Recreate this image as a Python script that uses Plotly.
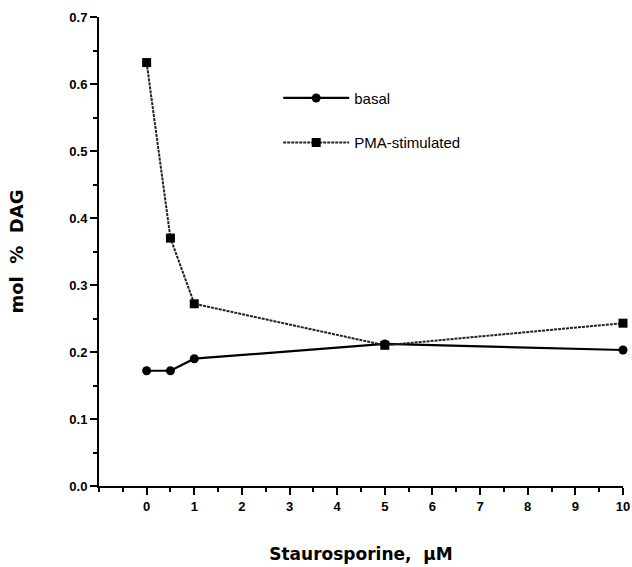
import plotly.graph_objects as go

x_basal = [0, 0.5, 1, 5, 10]
y_basal = [0.172, 0.172, 0.19, 0.212, 0.203]
x_pma = [0, 0.5, 1, 5, 10]
y_pma = [0.632, 0.37, 0.272, 0.21, 0.243]
x_ticks = list(range(0, 11))
y_ticks = [0.0, 0.1, 0.2, 0.3, 0.4, 0.5, 0.6, 0.7]

font = "Liberation Sans, Arial, sans-serif"
title_font = "DejaVu Sans, Liberation Sans, sans-serif"

fig = go.Figure()
fig.add_trace(go.Scatter(
    x=x_basal, y=y_basal, name="basal", mode="lines+markers",
    line=dict(color="black", width=2.2),
    marker=dict(symbol="circle", size=9, color="black"),
    legendgroup="a", cliponaxis=False,
))
fig.add_trace(go.Scatter(
    x=x_pma, y=y_pma, name="PMA-stimulated", mode="lines+markers",
    line=dict(color="#222222", width=2, dash="3px,1px"),
    marker=dict(symbol="square", size=9, color="black"),
    legendgroup="b", cliponaxis=False,
))

fig.update_layout(
    width=632, height=567,
    margin=dict(l=99, r=9, t=17, b=81, autoexpand=False),
    paper_bgcolor="white", plot_bgcolor="white",
    font=dict(family=font, color="black"),
    legend=dict(
        x=0.342, y=0.862, xanchor="left", yanchor="top",
        bgcolor="rgba(0,0,0,0)", font=dict(size=15, family=font),
        tracegroupgap=22, itemwidth=66,
    ),
    xaxis=dict(
        range=[-1, 10], tickvals=x_ticks, ticktext=[str(v) for v in x_ticks],
        showgrid=False, zeroline=False, showline=True, linecolor="black", linewidth=2,
        ticks="outside", ticklen=7, tickwidth=2, tickcolor="black",
        minor=dict(tick0=0, dtick=0.5, ticks="outside", ticklen=4, tickwidth=2, tickcolor="black"),
        tickfont=dict(size=13, family=font, weight="bold"),
        title=dict(text="<b>Staurosporine,  μM</b>", font=dict(size=17, family=title_font), standoff=36),
        automargin=False,
    ),
    yaxis=dict(
        range=[0, 0.7], tickvals=y_ticks, ticktext=[f"{v:.1f}" for v in y_ticks],
        showgrid=False, zeroline=False, showline=True, linecolor="black", linewidth=2,
        ticks="outside", ticklen=7, tickwidth=2, tickcolor="black",
        minor=dict(tick0=0, dtick=0.05, ticks="outside", ticklen=4, tickwidth=2, tickcolor="black"),
        tickfont=dict(size=13, family=font, weight="bold"),
        title=dict(text="<b>mol&nbsp; %&nbsp; DAG</b>", font=dict(size=18, family=title_font), standoff=41),
        automargin=False,
    ),
)

fig.write_html("out.html", config={"displayModeBar": False},
               post_script="document.body.style.margin='0';")
